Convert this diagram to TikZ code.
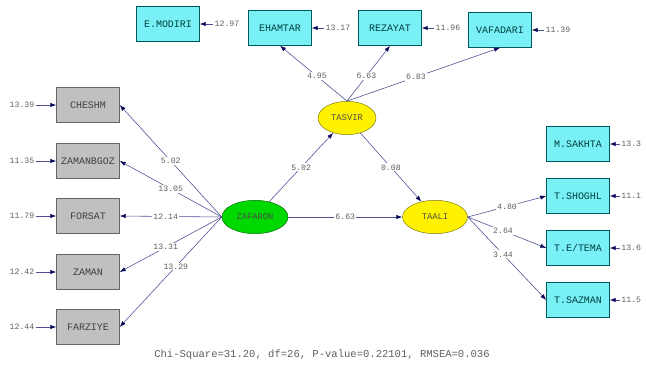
\documentclass[tikz,border=0pt]{standalone}
\usepackage{fontspec}
\setmonofont{Liberation Mono}
\usetikzlibrary{arrows.meta,positioning,shapes.geometric}
\definecolor{boxcyan}{RGB}{120,240,245}
\definecolor{boxgray}{RGB}{192,192,192}
\definecolor{linenavy}{RGB}{80,80,150}
\definecolor{tipnavy}{RGB}{10,10,90}
\definecolor{numgray}{RGB}{95,95,95}
\begin{document}
\begin{tikzpicture}[x=0.03cm,y=-0.03cm,
  ybox/.style={draw=teal!70!black,fill=boxcyan,minimum width=1.89cm,minimum height=1.05cm,inner sep=1pt,font=\ttfamily\fontsize{8.5}{9}\selectfont,text=teal!50!black},
  xbox/.style={draw=gray!80!black,fill=boxgray,minimum width=1.89cm,minimum height=1.05cm,inner sep=1pt,font=\ttfamily\fontsize{8.5}{9}\selectfont,text=black!75},
  lat/.style={ellipse,draw,minimum height=1.0cm,inner sep=1pt,font=\ttfamily\fontsize{7.5}{8}\selectfont,text=black!70},
  err/.style={inner sep=1pt,font=\ttfamily\fontsize{7}{8}\selectfont,text=numgray},
  lbl/.style={fill=white,inner sep=1pt,font=\ttfamily\fontsize{7}{8}\selectfont,text=numgray},
  arr/.style={draw=linenavy,line width=0.5pt,-{Latex[length=1.8mm,width=1.3mm,color=tipnavy]}}]
\useasboundingbox (0,0) rectangle (646,368);
% latent variables
\node[lat,fill=green!85!black,draw=green!40!black,minimum width=1.98cm] (zaf) at (255,217) {ZAFARON};
\node[lat,fill=yellow,draw=olive!80!black,minimum width=1.74cm] (tasvir) at (347,118) {TASVIR};
\node[lat,fill=yellow,draw=olive!80!black,minimum width=1.95cm] (taali) at (435,217) {TAALI};
% top indicators
\node[ybox] (emodiri) at (168,24) {E.MODIRI};
\node[ybox] (ehamtar) at (280,28) {EHAMTAR};
\node[ybox] (rezayat) at (390,28) {REZAYAT};
\node[ybox] (vafadari) at (500,30) {VAFADARI};
% left indicators
\node[xbox] (cheshm) at (88,105) {CHESHM};
\node[xbox] (zbgoz) at (88,161) {ZAMANBGOZ};
\node[xbox] (forsat) at (88,216) {FORSAT};
\node[xbox] (zaman) at (88,272) {ZAMAN};
\node[xbox] (farziye) at (88,327) {FARZIYE};
% right indicators
\node[ybox] (msakhta) at (578,144) {M.SAKHTA};
\node[ybox] (tshoghl) at (578,196) {T.SHOGHL};
\node[ybox] (tetema) at (578,248) {T.E/TEMA};
\node[ybox] (tsazman) at (578,300) {T.SAZMAN};
% error terms
\node[err] (e1) at (227,24) {12.97};
\node[err] (e2) at (338,28) {13.17};
\node[err] (e3) at (448,28) {11.96};
\node[err] (e4) at (558,30) {11.39};
\node[err] (e5) at (22,105) {13.39};
\node[err] (e6) at (22,161) {11.35};
\node[err] (e7) at (22,216) {11.79};
\node[err] (e8) at (22,272) {12.42};
\node[err] (e9) at (22,327) {12.44};
\node[err,anchor=west] (e10) at (620,144) {13.3};
\node[err,anchor=west] (e11) at (620,196) {11.1};
\node[err,anchor=west] (e12) at (620,248) {13.6};
\node[err,anchor=west] (e13) at (620,300) {11.5};
\draw[arr](e1)--(emodiri);\draw[arr](e2)--(ehamtar);\draw[arr](e3)--(rezayat);\draw[arr](e4)--(vafadari);
\draw[arr](e5)--(cheshm);\draw[arr](e6)--(zbgoz);\draw[arr](e7)--(forsat);\draw[arr](e8)--(zaman);\draw[arr](e9)--(farziye);
\draw[arr](e10)--(msakhta);\draw[arr](e11)--(tshoghl);\draw[arr](e12)--(tetema);\draw[arr](e13)--(tsazman);
% loadings
\draw[arr](tasvir.north)--node[lbl,pos=0.45]{4.95}(ehamtar.south);
\draw[arr](tasvir.north)--node[lbl,pos=0.45]{6.63}(rezayat.south);
\draw[arr](tasvir.north)--node[lbl,pos=0.45]{6.83}(vafadari.south);
\draw[arr](zaf.west)--node[lbl,pos=0.5]{5.02}(cheshm.east);
\draw[arr](zaf.west)--node[lbl,pos=0.5]{13.05}(zbgoz.east);
\draw[arr](zaf.west)--node[lbl,pos=0.55]{12.14}(forsat.east);
\draw[arr](zaf.west)--node[lbl,pos=0.55]{13.31}(zaman.east);
\draw[arr](zaf.west)--node[lbl,pos=0.45]{13.29}(farziye.east);
\draw[arr](taali.east)--node[lbl,pos=0.5]{4.80}(tshoghl.west);
\draw[arr](taali.east)--node[lbl,pos=0.45]{2.64}(tetema.west);
\draw[arr](taali.east)--node[lbl,pos=0.45]{3.44}(tsazman.west);
% structural paths
\draw[arr](zaf)--node[lbl,pos=0.5]{5.02}(tasvir);
\draw[arr](tasvir)--node[lbl,pos=0.5]{0.08}(taali);
\draw[arr](zaf)--node[lbl,pos=0.5]{6.63}(taali);
\node[font=\ttfamily\fontsize{9}{10}\selectfont,text=numgray] (fit) at (322,355) {Chi-Square=31.20, df=26, P-value=0.22101, RMSEA=0.036};
\end{tikzpicture}
\end{document}
